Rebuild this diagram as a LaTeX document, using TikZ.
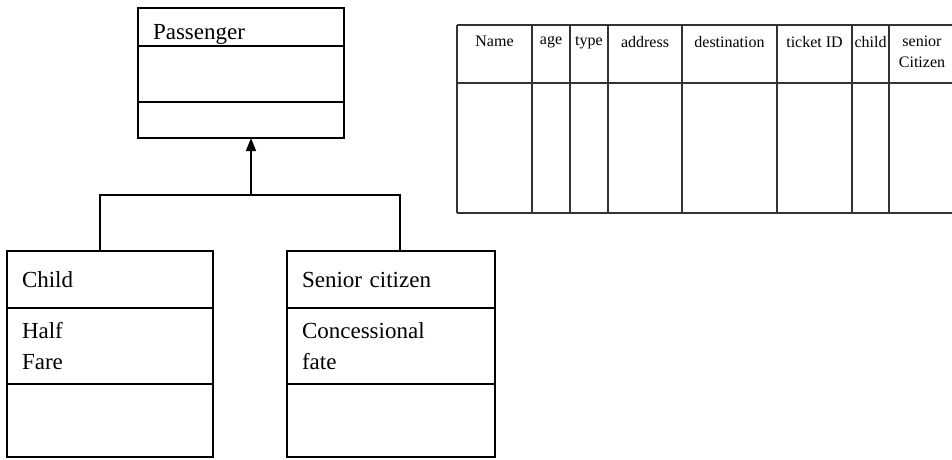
\documentclass[tikz,border=0pt]{standalone}
\usepackage{fontspec}
\setmainfont{Liberation Serif}
\usetikzlibrary{arrows.meta, positioning}

\begin{document}
\begin{tikzpicture}[x=1pt, y=-1pt,
  part/.style={draw, line width=1.2pt, outer sep=0pt, inner sep=0pt,
    anchor=north, minimum width=#1, text width=#1-30pt, align=left,
    font=\fontsize{23}{31}\selectfont},
  grid/.style={line width=1.4pt, black!80},
  head/.style={anchor=north, inner sep=0pt, align=center,
    font=\fontsize{16}{21}\selectfont}]
\useasboundingbox (0,0) rectangle (952,459);

% base class
\node[part=206, minimum height=38, text height=25pt, text depth=0pt] (pass1) at (241,8) {Passenger};
\node[part=206, minimum height=56, below=0pt of pass1] (pass2) {};
\node[part=206, minimum height=36, below=0pt of pass2] (pass3) {};

% subclasses
\node[part=206, minimum height=57] (child1) at (110,251) {Child};
\node[part=206, minimum height=76, below=0pt of child1] (child2) {Half\\Fare};
\node[part=206, minimum height=73, below=0pt of child2] (child3) {};

\node[part=208, minimum height=57] (senior1) at (391,251) {Senior citizen};
\node[part=208, minimum height=76, below=0pt of senior1] (senior2) {Concessional\\fate};
\node[part=208, minimum height=73, below=0pt of senior2] (senior3) {};

% inheritance
\coordinate (joint) at (251,195);
\draw[line width=1.2pt] ([xshift=-10pt]child1.north) |- (joint) -| ([xshift=9pt]senior1.north);
\draw[line width=1.2pt, -{Triangle[width=10pt,length=13pt]}] (joint) -- (joint |- pass3.south);

% passenger table
\draw[grid] (457,25) -- (952,25) (457,83) -- (952,83) (457,213) -- (952,213);
\foreach \x in {457,532,570,608,682,777,852,889}
  \draw[grid] (\x,25) -- (\x,213);
\foreach \l/\r/\txt [count=\i] in {457/532/Name, 532/570/age, 570/608/type,
    608/682/address, 682/777/destination, 777/852/ticket ID, 852/889/child,
    889/955/{senior\\Citizen}}
  \node[head] (col\i) at ({(\l+\r)/2},36) {\txt};
\end{tikzpicture}
\end{document}
